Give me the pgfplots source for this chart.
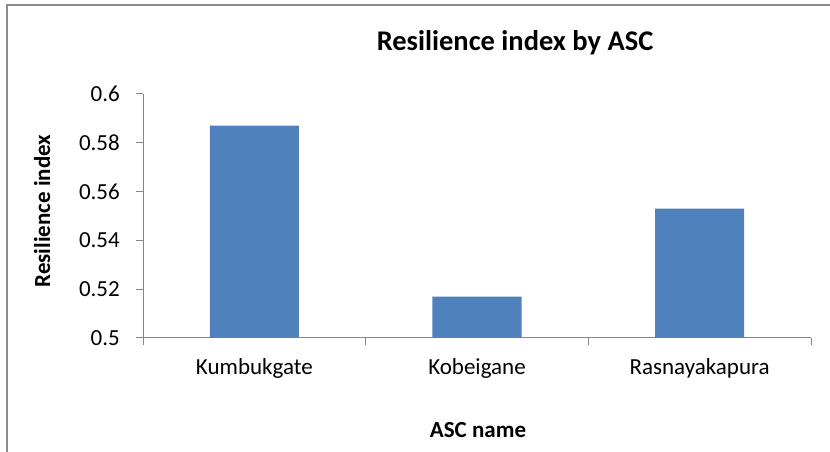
\documentclass[border=0pt]{standalone}
\usepackage{fontspec}
\setmainfont{Carlito}
\usepackage{pgfplots}
\pgfplotsset{compat=1.18}
\definecolor{barblue}{HTML}{4F81BD}
\definecolor{axgray}{HTML}{868686}
\definecolor{framegray}{HTML}{8C8C8C}
\begin{document}
\begin{tikzpicture}[x=1pt,y=1pt]
\path[use as bounding box] (0,0) rectangle (830,452);
\draw[framegray, line width=1.2pt] (7,0) -- (7,447) -- (830,447);
\begin{axis}[
  at={(143pt,114pt)}, anchor=south west,
  scale only axis, width=668pt, height=244pt,
  ybar, bar width=0.4,
  xmin=-0.5, xmax=2.5, ymin=0.5, ymax=0.6,
  axis lines=left, axis line style={-, draw=axgray, line width=1pt},
  tick align=outside, major tick length=7pt,
  tick style={axgray, line width=1pt},
  xtick={-0.5,0.5,1.5,2.5}, xticklabels={},
  extra x ticks={0,1,2},
  extra x tick labels={Kumbukgate,Kobeigane,Rasnayakapura},
  extra x tick style={major tick length=0pt},
  ytick={0.5,0.52,0.54,0.56,0.58,0.6},
  yticklabels={0.5,0.52,0.54,0.56,0.58,0.6},
  /pgf/number format/assume math mode=true,
  ticklabel style={font=\fontsize{23}{27}\selectfont, text=black},
  yticklabel style={anchor=east, inner sep=0pt, xshift=-16pt},
  xticklabel style={anchor=base, inner sep=0pt, yshift=-37pt},
  title={\textbf{Resilience index by ASC}},
  title style={font=\fontsize{28.5}{32}\selectfont, at={(rel axis cs:0.557,1.193)}, anchor=base, inner sep=0pt, yshift=-10pt},
  xlabel={\textbf{ASC name}},
  xlabel style={font=\fontsize{23}{27}\selectfont, at={(rel axis cs:0.5015,-0.406)}, anchor=base, inner sep=0pt},
  ylabel={\textbf{Resilience index}},
  ylabel style={font=\fontsize{23}{27}\selectfont, at={(rel axis cs:-0.139,0.52)}, anchor=base, inner sep=0pt},
  clip=false,
]
\addplot[fill=barblue, draw=none] coordinates {(0,0.587) (1,0.517) (2,0.553)};
\end{axis}
\end{tikzpicture}
\end{document}
